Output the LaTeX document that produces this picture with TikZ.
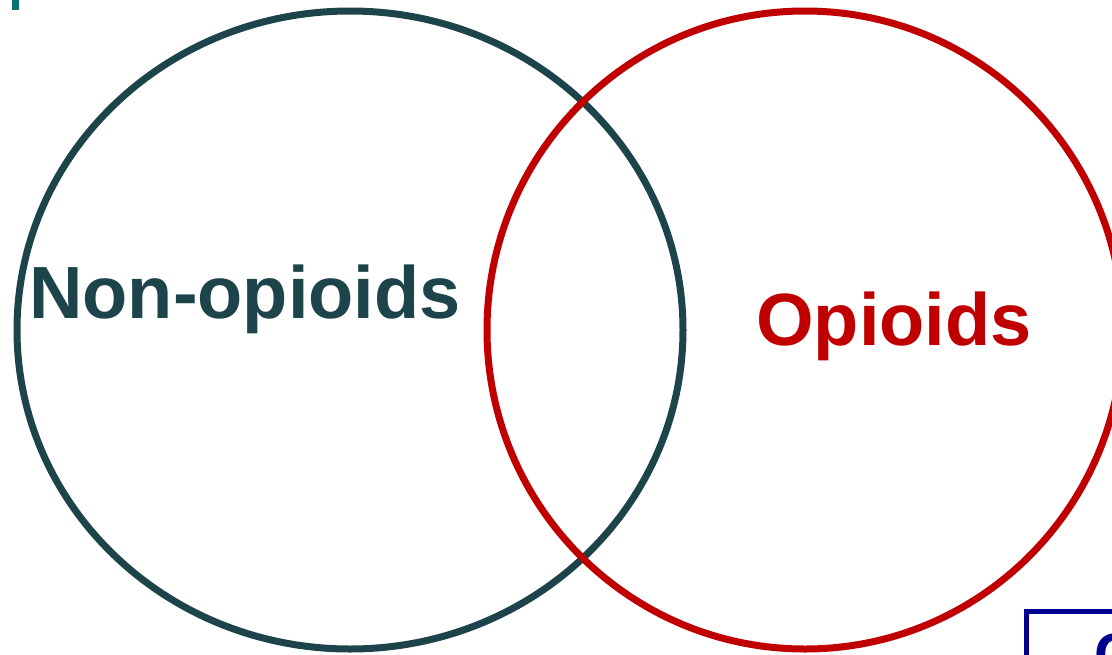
\documentclass[tikz,border=0pt]{standalone}
\usepackage{fontspec}
\setmainfont{Liberation Sans}
\definecolor{nonop}{HTML}{1C444A}
\definecolor{opred}{HTML}{C00000}
\definecolor{tealmark}{HTML}{0A7070}
\definecolor{navy}{HTML}{000090}
\begin{document}
\begin{tikzpicture}[x=1pt,y=-1pt,
  ring/.style={line width=7pt},
  biglabel/.style={font=\fontsize{74}{80}\selectfont\bfseries, inner sep=0pt, anchor=base}]
\useasboundingbox (0,0) rectangle (1112,654);
\begin{scope}
\clip (0,0) rectangle (1112,654);
% corner marks
\fill[tealmark] (12,0) rectangle (19,10);
\draw[navy, line width=5pt] (1026.5,660) |- (1120,611.5);
\node[font=\fontsize{60}{60}\selectfont\bfseries, text=navy, anchor=north west, inner sep=0pt] (cmark) at (1094,633) {C};
% the two sets
\draw[ring, nonop] (350,330) ellipse [x radius=333, y radius=319];
\draw[ring, opred] (805,330) ellipse [x radius=318, y radius=319];
\end{scope}
\node[biglabel, text=nonop] (nonop) at (245,318) {Non-opioids};
\node[biglabel, text=opred] (op) at (894,345) {Opioids};
\end{tikzpicture}
\end{document}
